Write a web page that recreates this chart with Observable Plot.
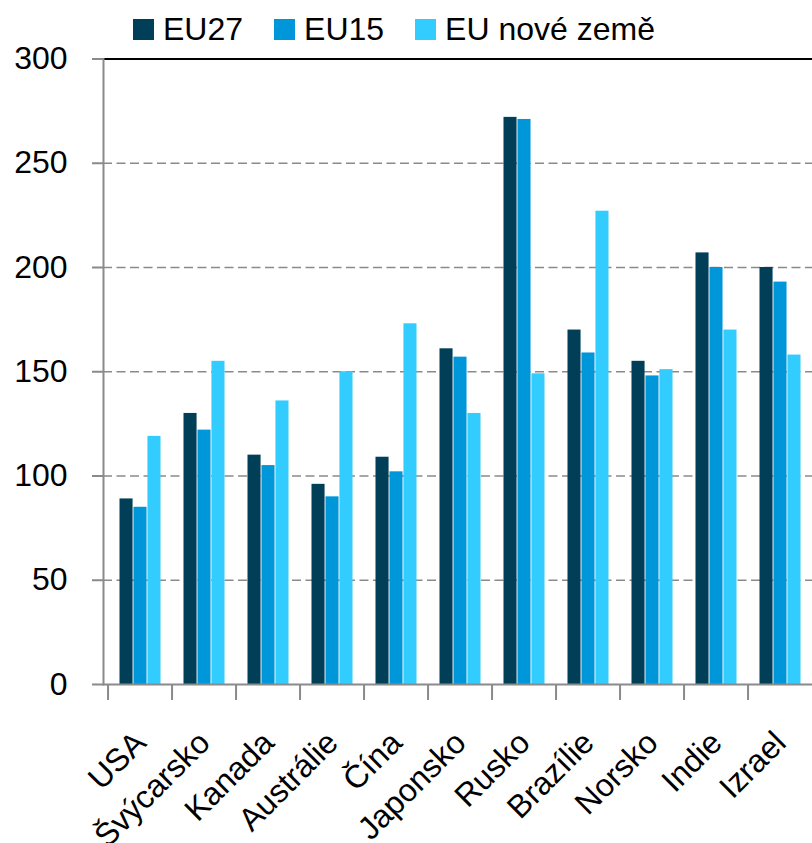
<!DOCTYPE html>
<html><head><meta charset="utf-8">
<script src="https://cdn.jsdelivr.net/npm/d3@7"></script>
<script src="https://cdn.jsdelivr.net/npm/@observablehq/plot@0.6"></script>
<style>
html,body{margin:0;padding:0;overflow:hidden;background:#fff;}
#wrap{position:relative;width:812px;height:843px;overflow:hidden;}
#chart{width:820px;}
#chart svg{max-width:none !important;}
#legend{position:absolute;top:13px;left:133px;display:flex;align-items:center;font-family:"Liberation Sans",Arial,sans-serif;font-size:32px;line-height:32px;color:#000;white-space:nowrap;}
.item{display:flex;align-items:center;margin-right:31px;}
.sw{width:21px;height:21px;margin-right:9px;}
</style></head><body>
<div id="wrap"><div id="chart"></div><div id="legend"></div></div>
<script>
const countries = ["USA","Švýcarsko","Kanada","Austrálie","Čína","Japonsko","Rusko","Brazílie","Norsko","Indie","Izrael"];
const seriesNames = ["EU27","EU15","EU nové země"];
const eu27  = [89, 130, 110, 96, 109, 161, 272, 170, 155, 207, 200];
const eu15  = [85, 122, 105, 90, 102, 157, 271, 159, 148, 200, 193];
const euNew = [119, 155, 136, 150, 173, 130, 149, 227, 151, 170, 158];
const yTicks = [0, 50, 100, 150, 200, 250, 300];
const colors = ["#013f59", "#0097da", "#33ccff"];

const seriesValues = [eu27, eu15, euNew];
const rows = countries.flatMap((c, i) => seriesNames.map((s, k) => ({country: c, series: s, value: seriesValues[k][i]})));

const marginLeft = 103, step = 64.9, n = countries.length;
const width = marginLeft + step * n;
const groupPad = 11.5, barW = (step - 2 * groupPad) / 3;

const barMarks = seriesNames.map((s, k) => Plot.barY(rows.filter(d => d.series === s), {
  x: "country", y: "value", fill: colors[k],
  insetLeft: groupPad + barW * k, insetRight: step - groupPad - barW * (k + 1)
}));

const chart = Plot.plot({
  width, height: 843,
  marginLeft, marginRight: 0, marginTop: 58.5, marginBottom: 159,
  style: {fontFamily: '"Liberation Sans", Arial, sans-serif', fontSize: "32px", color: "#000", background: "#fff", overflow: "visible", maxWidth: "none"},
  x: {domain: countries, padding: 0, axis: null, label: null},
  y: {domain: [0, 300], axis: null, label: null},
  marks: [
    Plot.gridY(yTicks.filter(t => t > 0 && t < 300), {stroke: "#8a8a8a", strokeOpacity: 1, strokeWidth: 1.5, strokeDasharray: "9,4.5"}),
    ...barMarks,
    Plot.ruleY([300], {stroke: "#000", strokeWidth: 2}),
    Plot.ruleY([0], {stroke: "#8a8a8a", strokeWidth: 2}),
    Plot.frame({anchor: "left", stroke: "#8a8a8a", strokeWidth: 2}),
    Plot.axisY({ticks: yTicks, tickSize: 11, tickPadding: 25, stroke: "#8a8a8a", strokeWidth: 2, fill: "#000", fontSize: 32, label: null}),
    Plot.axisX({tickSize: 16, tickFormat: () => "", dx: -step / 2, stroke: "#8a8a8a", strokeWidth: 2, label: null}),
    Plot.axisX({tickSize: 0, tickRotate: -45, tickPadding: 53, fontSize: 32, fill: "#000", label: null})
  ]
});
chart.style.maxWidth = "none";
document.getElementById("chart").appendChild(chart);

const legend = document.getElementById("legend");
seriesNames.forEach((s, k) => {
  const item = document.createElement("div");
  item.className = "item";
  const sw = document.createElement("div");
  sw.className = "sw";
  sw.style.background = colors[k];
  const t = document.createElement("span");
  t.textContent = s;
  item.appendChild(sw); item.appendChild(t);
  legend.appendChild(item);
});
</script>
</body></html>
